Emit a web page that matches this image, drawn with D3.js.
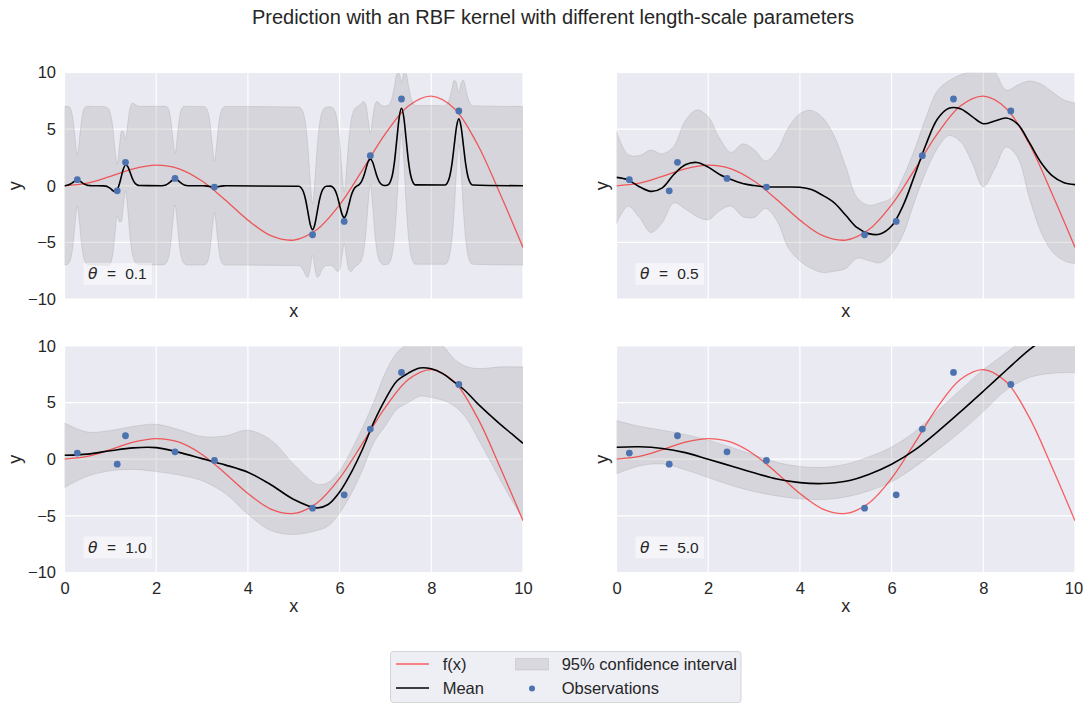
<!DOCTYPE html>
<html>
<head>
<meta charset="utf-8">
<script src="https://cdn.jsdelivr.net/npm/d3@7"></script>
<style>
  html, body { margin: 0; padding: 0; background: #ffffff; }
  svg text { font-family: "Liberation Sans", Arial, sans-serif; fill: #262626; }
</style>
</head>
<body>
<svg id="chart" width="1083" height="704"></svg>
<script>
// ---- observations (noisy samples) ----
const obsX = [0.28, 1.15, 1.33, 2.41, 3.27, 5.41, 6.10, 6.67, 7.35, 8.60];
const obsY = [0.54, -0.44, 2.07, 0.65, -0.11, -4.32, -3.14, 2.66, 7.66, 6.60];

// ---- true function f(x) ----
const fX = [0, 0.5, 1, 1.5, 2, 2.5, 3, 3.5, 4, 4.5, 5, 5.5, 6, 6.5, 7, 7.5, 8, 8.5, 9, 9.5, 10];
const fY = [0, 0.24, 0.84, 1.5, 1.82, 1.5, 0.42, -1.23, -3.03, -4.4, -4.79, -3.88, -1.68, 1.4, 4.6, 7.04, 7.91, 6.83, 3.71, -0.71, -5.44];

// ---- ticks and panel labels ----
const xTicks = [0, 2, 4, 6, 8, 10];
const yTicks = [-10, -5, 0, 5, 10];
const thetaLabels = ["0.1", "0.5", "1.0", "5.0"];

// ---- posterior, length-scale 0.1 ----
const x01 = [0, 0.03, 0.08, 0.13, 0.18, 0.23, 0.28, 0.33, 0.38, 0.43, 0.48, 0.53, 0.58,
  0.85, 0.9, 0.95, 1.0, 1.05, 1.1, 1.15, 1.2, 1.24, 1.28, 1.33, 1.38, 1.43, 1.48, 1.53, 1.58, 1.63,
  2.11, 2.16, 2.21, 2.26, 2.31, 2.36, 2.41, 2.46, 2.51, 2.56, 2.61, 2.66, 2.71,
  2.97, 3.02, 3.07, 3.12, 3.17, 3.22, 3.27, 3.32, 3.37, 3.42, 3.47, 3.52, 3.57,
  5.11, 5.16, 5.21, 5.26, 5.31, 5.36, 5.41, 5.46, 5.51, 5.56, 5.61, 5.66, 5.71,
  5.8, 5.85, 5.9, 5.95, 6.0, 6.05, 6.1, 6.15, 6.2, 6.25, 6.3,
  6.37, 6.42, 6.47, 6.52, 6.57, 6.62, 6.67, 6.72, 6.77, 6.82, 6.87, 6.92, 6.97,
  7.05, 7.1, 7.15, 7.2, 7.25, 7.3, 7.35, 7.4, 7.45, 7.5, 7.55, 7.6, 7.65,
  8.3, 8.35, 8.4, 8.45, 8.5, 8.55, 8.6, 8.65, 8.7, 8.75, 8.8, 8.85, 8.9,
  10];
const mean01 = [0.01, 0.02, 0.07, 0.16, 0.29, 0.43, 0.48, 0.43, 0.29, 0.16, 0.07, 0.02, 0.01,
  -0.01, -0.03, -0.1, -0.23, -0.41, -0.52, -0.35, 0.2, 0.83, 1.43, 1.84, 1.7, 1.19, 0.64, 0.27, 0.09, 0.02,
  0.01, 0.03, 0.08, 0.19, 0.35, 0.51, 0.58, 0.51, 0.35, 0.19, 0.08, 0.03, 0.01,
  0, 0, -0.01, -0.03, -0.06, -0.09, -0.1, -0.09, -0.06, -0.03, -0.01, 0, 0,
  -0.04, -0.17, -0.52, -1.25, -2.35, -3.41, -3.87, -3.41, -2.35, -1.25, -0.52, -0.17, -0.04,
  -0.03, -0.12, -0.38, -0.91, -1.71, -2.48, -2.81, -2.48, -1.71, -0.91, -0.38,
  -0.04, 0.08, 0.32, 0.77, 1.44, 2.1, 2.38, 2.1, 1.44, 0.77, 0.32, 0.1, 0.03,
  0.08, 0.3, 0.93, 2.23, 4.16, 6.05, 6.85, 6.05, 4.16, 2.23, 0.93, 0.3, 0.08,
  0.07, 0.26, 0.8, 1.92, 3.58, 5.21, 5.91, 5.21, 3.58, 1.92, 0.8, 0.26, 0.07,
  0];
const hi01 = [7.01, 7.02, 7.01, 6.82, 6.02, 4.28, 2.75, 4.28, 6.02, 6.82, 7.01, 7.02, 7.01,
  6.99, 6.96, 6.84, 6.42, 5.29, 3.29, 1.92, 3.58, 4.81, 4.82, 4.11, 5.51, 6.89, 7.29, 7.21, 7.08, 7.02,
  7.01, 7.03, 7.02, 6.85, 6.08, 4.36, 2.85, 4.36, 6.08, 6.85, 7.02, 7.03, 7.01,
  7.0, 7.0, 6.93, 6.63, 5.67, 3.76, 2.17, 3.76, 5.67, 6.63, 6.93, 7.0, 7.0,
  6.96, 6.83, 6.42, 5.41, 3.38, 0.44, -1.6, 0.44, 3.38, 5.41, 6.42, 6.83, 6.96,
  6.97, 6.88, 6.56, 5.75, 4.02, 1.37, -0.54, 1.37, 4.02, 5.75, 6.56,
  6.96, 7.07, 7.26, 7.43, 7.17, 5.95, 4.65, 5.95, 7.17, 7.43, 7.26, 7.09, 7.03,
  7.08, 7.29, 7.87, 8.89, 9.89, 9.9, 9.12, 9.9, 9.89, 8.89, 7.87, 7.29, 7.08,
  7.07, 7.26, 7.74, 8.58, 9.31, 9.06, 8.18, 9.06, 9.31, 8.58, 7.74, 7.26, 7.07,
  7.0];
const lo01 = [-6.99, -6.98, -6.87, -6.5, -5.44, -3.42, -1.79, -3.42, -5.44, -6.5, -6.87, -6.98, -6.99,
  -7.01, -7.03, -7.04, -6.89, -6.11, -4.33, -2.62, -3.19, -3.16, -1.96, -0.43, -2.11, -4.51, -6.01, -6.67, -6.91, -6.98,
  -6.99, -6.97, -6.86, -6.47, -5.38, -3.34, -1.69, -3.34, -5.38, -6.47, -6.86, -6.97, -6.99,
  -7.0, -7.0, -6.95, -6.69, -5.79, -3.94, -2.37, -3.94, -5.79, -6.69, -6.95, -7.0, -7.0,
  -7.04, -7.17, -7.46, -7.91, -8.08, -7.26, -6.14, -7.26, -8.08, -7.91, -7.46, -7.17, -7.04,
  -7.03, -7.12, -7.32, -7.57, -7.44, -6.33, -5.08, -6.33, -7.44, -7.57, -7.32,
  -7.04, -6.92, -6.62, -5.89, -4.29, -1.75, 0.11, -1.75, -4.29, -5.89, -6.62, -6.89, -6.97,
  -6.92, -6.7, -6.01, -4.43, -1.57, 2.2, 4.58, 2.2, -1.57, -4.43, -6.01, -6.7, -6.92,
  -6.93, -6.74, -6.14, -4.74, -2.15, 1.36, 3.64, 1.36, -2.15, -4.74, -6.14, -6.74, -6.93,
  -7.0];

// ---- posterior, length-scale 0.5 ----
const x05 = [0, 0.25, 0.5, 0.75, 1, 1.25, 1.5, 1.75, 2, 2.25, 2.5, 2.75, 3, 3.25, 3.5, 3.75, 4, 4.25, 4.5, 4.75,
  5, 5.25, 5.5, 5.75, 6, 6.25, 6.5, 6.75, 7, 7.25, 7.5, 7.75, 8, 8.25, 8.5, 8.75, 9, 9.25, 9.5, 9.75, 10];
const mean05 = [0.74, 0.52, -0.08, -0.49, -0.18, 1.0, 1.85, 2.06, 1.65, 1.0, 0.55, 0.2, 0.02, -0.1, -0.11, -0.1, -0.13, -0.33, -0.85, -1.5,
  -2.6, -3.7, -4.22, -4.25, -3.55, -1.75, 0.9, 3.65, 5.9, 6.85, 6.8, 6.13, 5.48, 5.72, 5.98, 5.45, 3.85, 2.1, 0.9, 0.3, 0.1];
const hi05 = [4.82, 2.77, 2.67, 3.16, 2.82, 3.5, 5.75, 6.7, 6.1, 4.18, 2.95, 3.7, 3.2, 2.2, 3.1, 5.15, 6.37, 6.65, 6.0, 4.4,
  1.7, -1.05, -1.72, -1.5, -1.05, 0.75, 3.2, 6.05, 8.4, 9.27, 9.8, 10.16, 11.06, 10.1, 8.45, 8.9, 9.25, 9.0, 8.3, 7.6, 7.3];
const lo05 = [-3.34, -1.8, -2.8, -4.12, -3.25, -1.5, -2.05, -2.7, -3.0, -2.2, -1.8, -2.7, -2.8, -2.0, -3.1, -5.5, -6.63, -7.31, -7.65, -7.55,
  -7.3, -6.4, -6.6, -6.8, -6.0, -4.3, -1.4, 1.25, 3.3, 4.43, 3.9, 2.1, -0.1, 1.5, 3.43, 2.5, -1.0, -4.0, -5.8, -6.6, -6.9];

// ---- posterior, length-scale 1.0 ----
const x10 = [0, 0.5, 1, 1.5, 2, 2.5, 3, 3.5, 4, 4.5, 5, 5.5, 5.75, 6, 6.25, 6.5, 6.75, 7, 7.25, 7.5, 7.75, 8, 8.25, 8.5, 8.75, 9, 9.25, 9.5, 9.75, 10];
const mean10 = [0.35, 0.45, 0.75, 1.0, 1.02, 0.6, 0.05, -0.5, -1.15, -2.25, -3.55, -4.3, -4.0, -2.9, -1.2, 0.88, 3.3, 5.3, 6.9, 7.6, 8.05, 7.98, 7.55, 6.8, 6.0, 4.95, 4.0, 3.1, 2.25, 1.4];
const hi10 = [3.2, 2.4, 2.53, 2.9, 3.08, 2.6, 2.0, 2.05, 2.55, 1.7, -0.45, -2.2, -2.05, -1.05, 0.75, 2.8, 5.1, 7.65, 9.4, 10.2, 10.5, 10.45, 10.0, 8.85, 8.2, 8.0, 8.05, 8.15, 8.15, 8.15];
const lo10 = [-2.5, -1.5, -1.03, -0.9, -1.09, -1.4, -1.9, -3.0, -4.85, -6.3, -6.65, -6.3, -5.9, -4.75, -3.07, -0.95, 1.5, 2.95, 4.4, 5.0, 5.55, 5.45, 5.2, 4.7, 3.7, 1.95, 0.1, -1.8, -3.6, -5.25];

// ---- posterior, length-scale 5.0 ----
const x50 = [0, 0.5, 1, 1.5, 2, 2.5, 3, 3.5, 4, 4.5, 5, 5.5, 6, 6.5, 7, 7.5, 8, 8.5, 9, 9.5, 10];
const mean50 = [1.06, 1.1, 0.95, 0.58, 0.0, -0.6, -1.2, -1.75, -2.07, -2.15, -1.95, -1.35, -0.45, 0.8, 2.42, 4.18, 6.0, 7.85, 9.65, 11.1, 12.5];
const hi50 = [3.41, 2.9, 2.56, 2.18, 1.68, 1.06, 0.36, -0.28, -0.64, -0.72, -0.44, 0.2, 1.08, 2.4, 4.25, 6.1, 7.9, 9.4, 11.0, 13.5, 16.0];
const lo50 = [-1.29, -0.6, -0.42, -0.93, -1.62, -2.3, -2.86, -3.24, -3.5, -3.56, -3.33, -2.8, -2.0, -0.7, 0.8, 2.4, 4.2, 6.1, 7.2, 7.58, 7.65];

const panels = [
  { xs: x01, mean: mean01, hi: hi01, lo: lo01, curve: d3.curveMonotoneX },
  { xs: x05, mean: mean05, hi: hi05, lo: lo05, curve: d3.curveCatmullRom.alpha(0.5) },
  { xs: x10, mean: mean10, hi: hi10, lo: lo10, curve: d3.curveCatmullRom.alpha(0.5) },
  { xs: x50, mean: mean50, hi: hi50, lo: lo50, curve: d3.curveCatmullRom.alpha(0.5) }
];

// ---- layout ----
const svg = d3.select("#chart");
const W = 458.5, H = 226.6;
const lefts = [64.5, 616.5];
const tops = [72.5, 345.9];
const FONT = '"Liberation Sans", Arial, sans-serif';
const TICK_FS = 16.5;

const x = d3.scaleLinear().domain([0, 10]).range([0, W]);
const y = d3.scaleLinear().domain([-10, 10]).range([H, 0]);

svg.append("text")
  .attr("x", 553).attr("y", 23.5)
  .attr("text-anchor", "middle")
  .attr("font-size", 20)
  .text("Prediction with an RBF kernel with different length-scale parameters");

panels.forEach((p, i) => {
  const col = i % 2, row = Math.floor(i / 2);
  const g = svg.append("g").attr("transform", `translate(${lefts[col]},${tops[row]})`);

  g.append("rect").attr("width", W).attr("height", H).attr("fill", "#EAEAF2");

  // grid
  g.append("g").selectAll("line").data(xTicks).join("line")
    .attr("x1", d => x(d)).attr("x2", d => x(d))
    .attr("y1", 0).attr("y2", H)
    .attr("stroke", "#ffffff").attr("stroke-width", 1.2);
  g.append("g").selectAll("line").data(yTicks).join("line")
    .attr("x1", 0).attr("x2", W)
    .attr("y1", d => y(d)).attr("y2", d => y(d))
    .attr("stroke", "#ffffff").attr("stroke-width", 1.2);

  const clipId = "plot-clip-" + i;
  g.append("clipPath").attr("id", clipId)
    .append("rect").attr("width", W).attr("height", H);
  const plot = g.append("g").attr("clip-path", `url(#${clipId})`);

  const pts = p.xs.map((xv, k) => ({ x: xv, m: p.mean[k], hi: p.hi[k], lo: p.lo[k] }));

  // 95% confidence band
  plot.append("path")
    .datum(pts)
    .attr("d", d3.area().x(d => x(d.x)).y0(d => y(d.lo)).y1(d => y(d.hi)).curve(p.curve))
    .attr("fill", "#808080").attr("fill-opacity", 0.2)
    .attr("stroke", "#808080").attr("stroke-opacity", 0.2).attr("stroke-width", 1);

  // true function
  const fPts = fX.map((xv, k) => ({ x: xv, y: fY[k] }));
  plot.append("path")
    .datum(fPts)
    .attr("d", d3.line().x(d => x(d.x)).y(d => y(d.y)).curve(d3.curveCatmullRom.alpha(0.5)))
    .attr("fill", "none").attr("stroke", "#ff0000").attr("stroke-opacity", 0.6).attr("stroke-width", 1.3);

  // predictive mean
  plot.append("path")
    .datum(pts)
    .attr("d", d3.line().x(d => x(d.x)).y(d => y(d.m)).curve(p.curve))
    .attr("fill", "none").attr("stroke", "#000000").attr("stroke-width", 1.6);

  // observations
  plot.append("g").selectAll("circle").data(obsX).join("circle")
    .attr("cx", (d) => x(d)).attr("cy", (d, k) => y(obsY[k]))
    .attr("r", 3.4).attr("fill", "#4C72B0");

  // theta label
  const lab = g.append("g").attr("transform", `translate(19,${H - 36})`);
  lab.append("rect").attr("width", 68.5).attr("height", 21.8)
    .attr("fill", "#ffffff").attr("fill-opacity", 0.5);
  lab.append("text").attr("x", 4.4).attr("y", 16)
    .attr("font-size", 15.5).attr("font-style", "italic")
    .style("font-family", '"DejaVu Sans", sans-serif')
    .text("θ");
  lab.append("text").attr("x", 23.4).attr("y", 16).attr("font-size", 15.5).text("=");
  lab.append("text").attr("x", 41.7).attr("y", 16).attr("font-size", 15.5).text(thetaLabels[i]);

  // axes
  if (col === 0) {
    const ay = g.append("g")
      .call(d3.axisLeft(y).tickValues(yTicks).tickSize(0).tickPadding(8.5))
      .attr("font-size", TICK_FS).attr("font-family", FONT).attr("color", "#262626");
    ay.select(".domain").remove();
  }
  if (row === 1) {
    const ax = g.append("g").attr("transform", `translate(0,${H})`)
      .call(d3.axisBottom(x).tickValues(xTicks).tickSize(0).tickPadding(9.5))
      .attr("font-size", TICK_FS).attr("font-family", FONT).attr("color", "#262626");
    ax.select(".domain").remove();
    // keep the last label of the right-hand panel inside the figure edge
    if (col === 1) {
      ax.selectAll(".tick text").filter(d => d === 10).attr("dx", -1.5);
    }
  }

  // axis labels
  g.append("text")
    .attr("x", W / 2).attr("y", row === 0 ? H + 17.5 : H + 40)
    .attr("text-anchor", "middle").attr("font-size", 18)
    .text("x");
  const yLabX = col === 0 ? -43.5 : -8.5;
  g.append("text")
    .attr("transform", `translate(${yLabX},${H / 2}) rotate(-90)`)
    .attr("text-anchor", "middle").attr("font-size", 18)
    .text("y");
});

// ---- legend ----
const leg = svg.append("g");
leg.append("rect")
  .attr("x", 390.5).attr("y", 651.5).attr("width", 350.5).attr("height", 51)
  .attr("rx", 3).attr("ry", 3)
  .attr("fill", "#EAEAF2").attr("fill-opacity", 0.8)
  .attr("stroke", "#CCCCCC").attr("stroke-opacity", 0.8).attr("stroke-width", 1);
leg.append("line").attr("x1", 396).attr("x2", 429).attr("y1", 664).attr("y2", 664)
  .attr("stroke", "#ff0000").attr("stroke-opacity", 0.6).attr("stroke-width", 1.3);
leg.append("line").attr("x1", 396).attr("x2", 429).attr("y1", 688).attr("y2", 688)
  .attr("stroke", "#000000").attr("stroke-width", 1.6);
leg.append("rect").attr("x", 515.5).attr("y", 658.5).attr("width", 33).attr("height", 11.5)
  .attr("fill", "#808080").attr("fill-opacity", 0.2)
  .attr("stroke", "#808080").attr("stroke-opacity", 0.2);
leg.append("circle").attr("cx", 532).attr("cy", 688.5).attr("r", 3).attr("fill", "#4C72B0");
const legText = [
  { t: "f(x)", x: 442.7, y: 670 },
  { t: "Mean", x: 442.7, y: 694 },
  { t: "95% confidence interval", x: 561.7, y: 670 },
  { t: "Observations", x: 561.7, y: 694 }
];
leg.selectAll("text.lt").data(legText).join("text")
  .attr("class", "lt")
  .attr("x", d => d.x).attr("y", d => d.y)
  .attr("font-size", 16.5)
  .text(d => d.t);
</script>
</body>
</html>
